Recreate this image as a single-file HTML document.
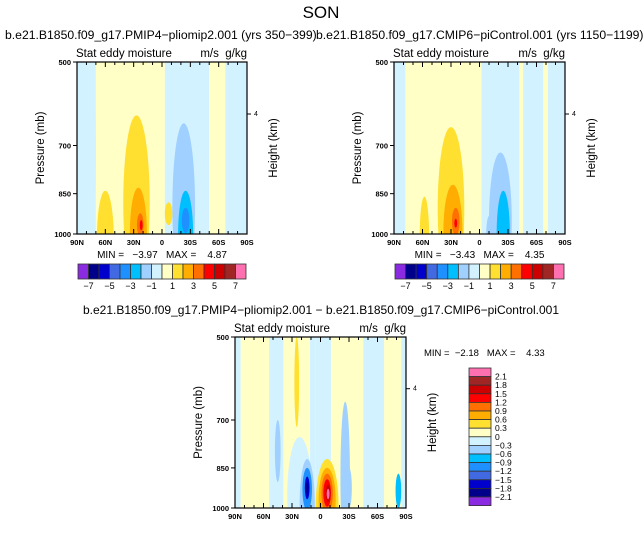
<!DOCTYPE html>
<html><head><meta charset="utf-8">
<style>
body{margin:0;background:#fff;width:643px;height:528px;overflow:hidden;font-family:"Liberation Sans",sans-serif}
svg text{font-family:"Liberation Sans",sans-serif;fill:#000;white-space:pre}
</style></head>
<body>
<svg id="chart" width="643" height="528" viewBox="0 0 643 528" xmlns="http://www.w3.org/2000/svg">
<text x="321" y="18" font-size="17" text-anchor="middle" fill="#222">SON</text>
<text x="5" y="39" font-size="12.2">b.e21.B1850.f09_g17.PMIP4−pliomip2.001 (yrs 350−399)</text>
<text x="316" y="39" font-size="12.2">b.e21.B1850.f09_g17.CMIP6−piControl.001 (yrs 1150−1199)</text>
<text x="321" y="314" font-size="12" text-anchor="middle">b.e21.B1850.f09_g17.PMIP4−pliomip2.001 − b.e21.B1850.f09_g17.CMIP6−piControl.001</text>
<g id="root"></g>
</svg>
<script>
const colors=["#8a2be2","#00008b","#0000cd","#4169e1","#1e90ff","#00bfff","#a0d0ff","#d2f2ff","#ffffc6","#ffdf30","#ffad00","#ff7000","#ff0000","#cc0000","#a02525","#ff70b0"];
const xTickLabels=["90N","60N","30N","0","30S","60S","90S"];
const xTickLats=[90,60,30,0,-30,-60,-90];
const pTicks=[500,700,850,1000];
const cbLabelsTop=["−7","−5","−3","−1","1","3","5","7"];
const cbLabelsDiff=["2.1","1.8","1.5","1.2","0.9","0.6","0.3","0","−0.3","−0.6","−0.9","−1.2","−1.5","−1.8","−2.1"];
// bands: [latFrom, latTo, colorIndex]
const bands1=[[90,70,7],[70,-3,8],[-3,-50,7],[-50,-67,8],[-67,-90,7]];
const bands2=[[90,78,7],[78,-2,8],[-2,-90,7],[-42,-46,8],[-67,-72,8]];
const bands3=[[90,84,7],[84,54,8],[54,39,7],[39,11,8],[11,5,7],[5,-11,7],[-11,-45,8],[-45,-67,7],[-67,-85,8],[-85,-90,7]];
// blobs: [lat, pTop, pBottom, halfWidthDeg, colorIndex]
const blobs1=[[72,520,1000,2,7],[27,620,1250,14,9],[25,830,1200,9,10],[23,920,1010,3.5,11],[22,945,985,1.5,12],[60,840,1250,9,9],[-7,880,965,4,9],[-23,640,1250,12,6],[-25,840,1200,8,5],[-25,900,995,4,4]];
const blobs2=[[30,650,1250,14,9],[28,820,1200,10,10],[25,900,1005,4,11],[25,940,975,1.5,12],[58,860,1200,5,9],[-22,720,1250,12,6],[-25,840,1200,7,5],[-10,930,1100,3,6]];
const blobs3=[[25,500,720,2.5,9],[22,750,1200,13,7],[14,820,1200,8,6],[14,850,1010,5,4],[14,880,965,2.5,2],[14,900,950,1.2,1],[-7,820,1200,12,9],[-7,850,1100,9,10],[-7,870,1020,6,11],[-7,890,995,4,12],[-8,910,975,2.5,13],[-8,925,965,1.5,15],[-26,650,1200,5,6],[-30,850,1000,3,6],[-82,870,1000,3,5],[45,700,900,3,6]];
const panels=[
 {x:77,y:62,w:170,h:172,bands:bands1,blobs:blobs1,min:"−3.97",max:"4.87",id:"panel1",cb:"h"},
 {x:394,y:62,w:171,h:172,bands:bands2,blobs:blobs2,min:"−3.43",max:"4.35",id:"panel2",cb:"h"},
 {x:235,y:337,w:171,h:171,bands:bands3,blobs:blobs3,min:"−2.18",max:"4.33",id:"panel3",cb:"v"}];
const NS="http://www.w3.org/2000/svg";
const root=document.getElementById('root');
function mk(tag,attrs,parent){const e=document.createElementNS(NS,tag);for(const k in attrs)e.setAttribute(k,attrs[k]);(parent||root).appendChild(e);return e;}
panels.forEach((P,pi)=>{
 const g=mk('g',{});
 
 
 const xs=lat=>P.x+(90-lat)/180*P.w;
 const ys=p=>P.y+Math.log(p/500)/Math.log(2)*P.h;
 const cid='clip'+pi;
 const cp=mk('clipPath',{id:cid},g);mk('rect',{x:P.x,y:P.y,width:P.w,height:P.h},cp);
 const plot=mk('g',{'clip-path':'url(#'+cid+')'},g);
 
 
 P.bands.forEach(b=>{const r=mk('rect',{x:xs(b[0]),y:P.y,width:xs(b[1])-xs(b[0]),height:P.h,fill:colors[b[2]]},plot);
  });
 P.blobs.forEach(b=>{const y1=ys(b[1]),y2=ys(b[2]);
  const e=mk('ellipse',{cx:xs(b[0]),cy:(y1+y2)/2,rx:b[3]/180*P.w,ry:(y2-y1)/2,fill:colors[b[4]]},plot);
  });
 mk('rect',{x:P.x,y:P.y,width:P.w,height:P.h,fill:'none',stroke:'#000','stroke-width':1.2},g);
 for(let lat=90;lat>=-90;lat-=10){const x=xs(lat),L=lat%30===0?5:3;
  mk('line',{x1:x,x2:x,y1:P.y+P.h,y2:P.y+P.h-L,stroke:'#000'},g);mk('line',{x1:x,x2:x,y1:P.y,y2:P.y+L,stroke:'#000'},g);}
 xTickLabels.forEach((t,i)=>{const tx=mk('text',{x:xs(xTickLats[i]),y:P.y+P.h+11,'font-size':7.5,'text-anchor':'middle','font-weight':'bold'},g);tx.textContent=t;
  });
 pTicks.forEach(p=>{const y=ys(p);mk('line',{x1:P.x-4,x2:P.x,y1:y,y2:y,stroke:'#000'},g);
  const tx=mk('text',{x:P.x-6,y:y+3,'font-size':7.5,'text-anchor':'end','font-weight':'bold'},g);tx.textContent=p;
  });
 const yh=ys(616.6);mk('line',{x1:P.x+P.w,x2:P.x+P.w+4,y1:yh,y2:yh,stroke:'#000'},g);
 let t=mk('text',{x:P.x+P.w+7,y:yh+2,'font-size':7},g);t.textContent='4';
 t=mk('text',{transform:`translate(${P.x-33},${P.y+P.h/2}) rotate(-90)`,'font-size':11.5,'text-anchor':'middle'},g);t.textContent='Pressure (mb)';
 
 t=mk('text',{transform:`translate(${P.x+P.w+30},${P.y+P.h/2}) rotate(-90)`,'font-size':11.5,'text-anchor':'middle'},g);t.textContent='Height (km)';
 
 t=mk('text',{x:P.x-1,y:P.y-5,'font-size':11.5},g);t.textContent='Stat eddy moisture';
 
 t=mk('text',{x:P.x+P.w,y:P.y-5,'font-size':11.5,'text-anchor':'end'},g);t.textContent='m/s  g/kg';
 
 if(P.cb==='h'){
  t=mk('text',{x:P.x+P.w/2,y:P.y+P.h+24,'font-size':10,'text-anchor':'middle'},g);t.textContent=`MIN =   ${P.min}   MAX =    ${P.max}`;
  
  const cx=P.x+1,cw=(P.w-2)/16,cy=264;
  colors.forEach((c,i)=>{const r=mk('rect',{x:cx+i*cw,y:cy,width:cw,height:15,fill:c,stroke:'#333','stroke-width':0.8},g);
   });
  cbLabelsTop.forEach((l,i)=>{const tx=mk('text',{x:cx+(1+2*i)*cw,y:cy+25,'font-size':9,'text-anchor':'middle'},g);tx.textContent=l;
   });
 } else {
  t=mk('text',{x:424,y:356,'font-size':9.5},g);t.textContent=`MIN =  ${P.min}   MAX =    ${P.max}`;
  
  const cx=469,ch=8.6,cy=368;
  colors.slice().reverse().forEach((c,i)=>{const r=mk('rect',{x:cx,y:cy+i*ch,width:22,height:ch,fill:c,stroke:'#333','stroke-width':0.8},g);
   });
  cbLabelsDiff.forEach((l,i)=>{const tx=mk('text',{x:495,y:cy+(i+1)*ch+3,'font-size':8.5},g);tx.textContent=l;
   });
 }
});
</script>
</body></html>
